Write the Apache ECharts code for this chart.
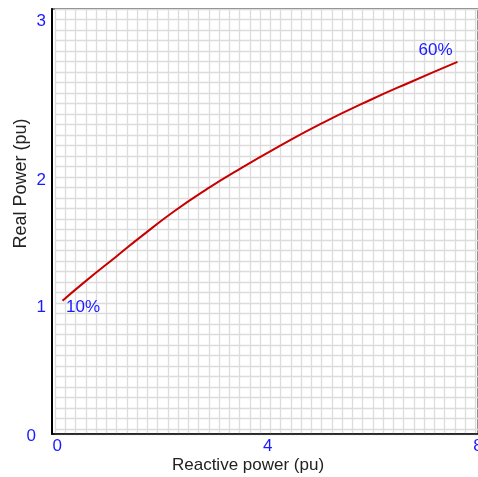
<!DOCTYPE html>
<html>
<head>
<meta charset="utf-8">
<script src="https://cdn.jsdelivr.net/npm/echarts@6/dist/echarts.min.js"></script>
<style>
html,body{margin:0;padding:0;background:#fff;}
#c{width:478px;height:477px;}
</style>
</head>
<body>
<div id="c"></div>
<script>
// Data
var reactive = [0.10, 0.50, 1.13, 1.58, 2.21, 2.85, 3.48, 4.24, 5.00, 5.95, 6.71, 7.61];
var realPower = [1.05, 1.19, 1.40, 1.55, 1.75, 1.93, 2.09, 2.27, 2.44, 2.63, 2.77, 2.93];
var endLabels = ['10%', '60%'];
var xTicks = [0, 4, 8];
var yTicks = [0, 1, 2, 3];
var xTitle = 'Reactive power (pu)';
var yTitle = 'Real Power (pu)';

var FONT = '"Liberation Sans", Arial, sans-serif';
var BLUE = '#1a1aff';

var seriesData = reactive.map(function (x, i) {
  var item = { value: [x, realPower[i]] };
  if (i === 0) {
    item.label = { show: true, formatter: endLabels[0], position: 'right', distance: 3, offset: [0, 7] };
  } else if (i === reactive.length - 1) {
    item.label = { show: true, formatter: endLabels[1], position: 'top', distance: 3, offset: [-22, 0] };
  }
  return item;
});

var chart = echarts.init(document.getElementById('c'), null, { renderer: 'canvas' });
chart.setOption({
  animation: false,
  backgroundColor: '#ffffff',
  textStyle: { fontFamily: FONT },
  grid: [
    { left: 52, right: 0, top: 9, bottom: 43, show: true, borderColor: '#555', borderWidth: 1.5, containLabel: false, outerBoundsMode: 'none' },
    { left: 55, right: 0, top: 9, bottom: 43, containLabel: false, outerBoundsMode: 'none' }
  ],
  xAxis: [
    {
      type: 'value', gridIndex: 0, min: -0.1, max: 8,
      name: xTitle, nameLocation: 'middle', nameGap: 23, nameMoveOverlap: false,
      nameTextStyle: { color: '#222', fontSize: 17, fontFamily: FONT, padding: [0, 34, 0, 0] },
      axisLine: { show: true, onZero: false, lineStyle: { color: '#000', width: 1.5 } },
      axisTick: { show: false },
      splitLine: { show: false },
      axisLabel: { customValues: xTicks, color: BLUE, fontSize: 17, fontFamily: FONT, margin: 4, showMaxLabel: true, showMinLabel: true, hideOverlap: false }
    },
    {
      type: 'value', gridIndex: 1, min: 0, max: 423 / 10.25, interval: 1,
      axisLine: { show: false }, axisTick: { show: false }, axisLabel: { show: false },
      splitLine: { show: true, lineStyle: { color: '#dcdcdc', width: 1.3 } }
    }
  ],
  yAxis: [
    {
      type: 'value', gridIndex: 0, min: 0, max: 425 / 127,
      name: yTitle, nameLocation: 'middle', nameGap: 22, nameRotate: 90, nameMoveOverlap: false,
      nameTextStyle: { color: '#222', fontSize: 18, fontFamily: FONT, padding: [0, 0, 0, 76] },
      axisLine: { show: true, onZero: false, lineStyle: { color: '#000', width: 2 } },
      axisTick: { show: false },
      splitLine: { show: false },
      axisLabel: {
        customValues: yTicks, color: BLUE, fontSize: 17, fontFamily: FONT, margin: 6, hideOverlap: false,
        formatter: function (v) {
          if (v === 3) return '{top|3}';
          if (v === 0) return '{zero|0}';
          return String(v);
        },
        rich: {
          top: { color: BLUE, fontSize: 17, fontFamily: FONT, padding: [0, 0, 64, 0] },
          zero: { color: BLUE, fontSize: 17, fontFamily: FONT, padding: [4, 10, 0, 0] }
        }
      }
    },
    {
      type: 'value', gridIndex: 1, inverse: true, min: 0, max: 425 / 10.5, interval: 1,
      axisLine: { show: false }, axisTick: { show: false }, axisLabel: { show: false },
      splitLine: { show: true, lineStyle: { color: '#dcdcdc', width: 1.3 } }
    }
  ],
  series: [
    {
      type: 'line', xAxisIndex: 0, yAxisIndex: 0, z: 5,
      data: seriesData,
      smooth: true,
      showSymbol: true,
      symbol: 'circle',
      symbolSize: 1,
      itemStyle: { color: 'rgba(0,0,0,0)' },
      lineStyle: { color: '#c80000', width: 2 },
      label: { color: BLUE, fontSize: 17, fontFamily: FONT },
      clip: false
    }
  ]
});
</script>
</body>
</html>
